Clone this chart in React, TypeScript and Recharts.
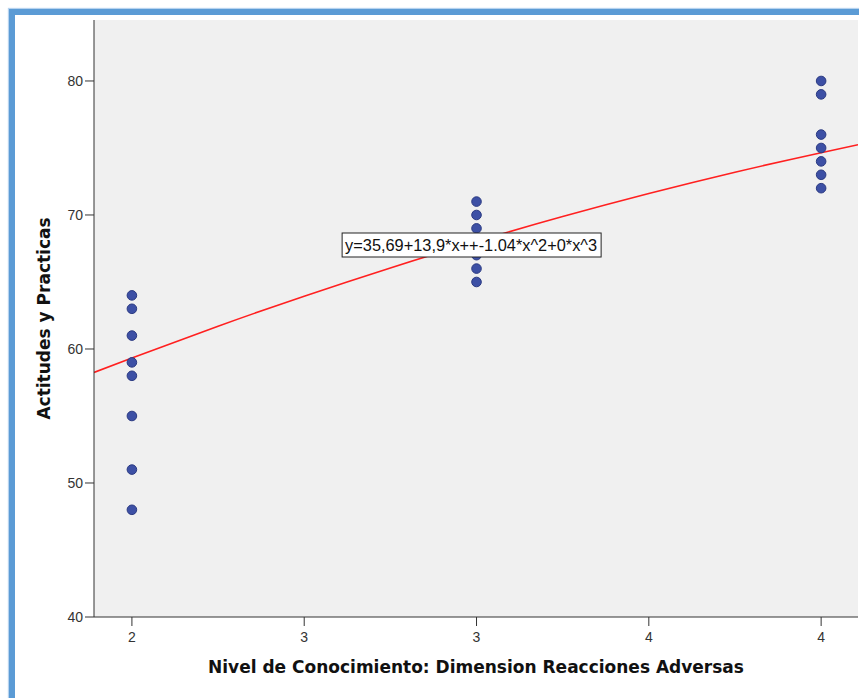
import React from 'react'
import {
  ComposedChart, Scatter, Line, XAxis, YAxis, CartesianGrid, ReferenceDot, Label,
} from 'recharts'

// Actitudes y Practicas per Nivel de Conocimiento group
const nivel2 = [64, 63, 61, 59, 58, 55, 51, 48]
const nivel3 = [71, 70, 69, 68, 67, 66, 65]
const nivel4 = [80, 79, 76, 75, 74, 73, 72]

// fitted curve
const curveX = [1.89, 2, 2.25, 2.5, 2.75, 3, 3.25, 3.5, 3.75, 4, 4.107]
const curveY = [58.25, 59.33, 61.7, 63.94, 66.05, 68.03, 69.88, 71.6, 73.19, 74.65, 75.24]

const xTicks = [2, 2.5, 3, 3.5, 4]
const xTickLabels = ['2', '3', '3', '4', '4']
const yTicks = [40, 50, 60, 70, 80]

const equation = 'y=35,69+13,9*x++-1.04*x^2+0*x^3'
const equationAt = { x: 2.61, y: 67.76 }

const points = [
  ...nivel2.map(y => ({ x: 2, y })),
  ...nivel3.map(y => ({ x: 3, y })),
  ...nivel4.map(y => ({ x: 4, y })),
]
const curve = curveX.map((x, i) => ({ x, y: curveY[i] }))

const FONT = '"Liberation Sans", Arial, sans-serif'
const TITLE_FONT = '"DejaVu Sans", Verdana, sans-serif'

const EquationBox = (props: any) => {
  const { cx, cy } = props
  return (
    <g>
      <rect x={cx} y={cy - 12} width={259} height={24} fill="#ffffff" stroke="#222" strokeWidth={1} />
      <text x={cx + 3} y={cy + 1} dominantBaseline="central" fontSize={16} fontFamily={FONT} fill="#111"
        textLength={252} lengthAdjust="spacingAndGlyphs">
        {equation}
      </text>
    </g>
  )
}

export default function App() {
  return (
    <div style={{ position: 'absolute', left: 0, top: 0, width: 859, height: 698, overflow: 'hidden', background: '#fff' }}>
      <div style={{
        position: 'absolute', left: 9, top: 9, width: 900, height: 750,
        borderTop: '6px solid #5b9bd5', borderLeft: '6px solid #5b9bd5',
        boxShadow: '0 0 1px 1px #b7d3ef',
      }} />
      <div style={{ position: 'absolute', left: 0, top: 0 }}>
        <ComposedChart
          width={900}
          height={698}
          margin={{ top: 20, right: 42, bottom: 0, left: 34 }}
        >
          <CartesianGrid fill="#f0f0f0" horizontal={false} vertical={false} />
          <XAxis
            type="number"
            dataKey="x"
            domain={[1.89, 4.107]}
            allowDataOverflow
            ticks={xTicks}
            tickFormatter={(v: number) => xTickLabels[xTicks.indexOf(v)]}
            height={81}
            tickSize={9}
            tickMargin={6}
            stroke="#333"
            tick={{ fontSize: 14, fill: '#333', fontFamily: FONT }}
          >
            <Label
              content={(p: any) => {
                const vb = p.viewBox
                return (
                  <text x={vb.x + vb.width / 2} y={673} textAnchor="middle" fontSize={17}
                    fontWeight="bold" fontFamily={TITLE_FONT} fill="#111">
                    Nivel de Conocimiento: Dimension Reacciones Adversas
                  </text>
                )
              }}
            />
          </XAxis>
          <XAxis xAxisId="top" orientation="top" type="number" domain={[1.89, 4.107]}
            height={0} tick={false} tickLine={false} stroke="#555" />
          <YAxis
            type="number"
            domain={[40, 84.55]}
            allowDataOverflow
            ticks={yTicks}
            width={60}
            tickSize={9}
            tickMargin={2}
            stroke="#333"
            tick={{ fontSize: 14, fill: '#333', fontFamily: FONT }}
          >
            <Label
              content={(p: any) => {
                const vb = p.viewBox
                const cx = 44
                const cy = vb.y + vb.height / 2
                return (
                  <text x={cx} y={cy} transform={`rotate(-90 ${cx} ${cy})`} textAnchor="middle"
                    dominantBaseline="central" fontSize={17} fontWeight="bold" fontFamily={TITLE_FONT} fill="#111">
                    Actitudes y Practicas
                  </text>
                )
              }}
            />
          </YAxis>
          <YAxis yAxisId="right" orientation="right" width={0} tick={false} tickLine={false} stroke="#aaa" />
          <Scatter
            data={points}
            dataKey="y"
            fill="#3d50a5"
            stroke="#2b3a82"
            strokeWidth={1}
            shape={(p: any) => <circle cx={p.cx} cy={p.cy} r={4.8} fill="#3d50a5" stroke="#2b3a82" strokeWidth={1} />}
            isAnimationActive={false}
          />
          <Line
            data={curve}
            dataKey="y"
            type="monotone"
            stroke="#ff2020"
            strokeWidth={1.6}
            dot={false}
            activeDot={false}
            isAnimationActive={false}
          />
          <ReferenceDot x={equationAt.x} y={equationAt.y} shape={EquationBox} ifOverflow="visible" />
        </ComposedChart>
      </div>
    </div>
  )
}
